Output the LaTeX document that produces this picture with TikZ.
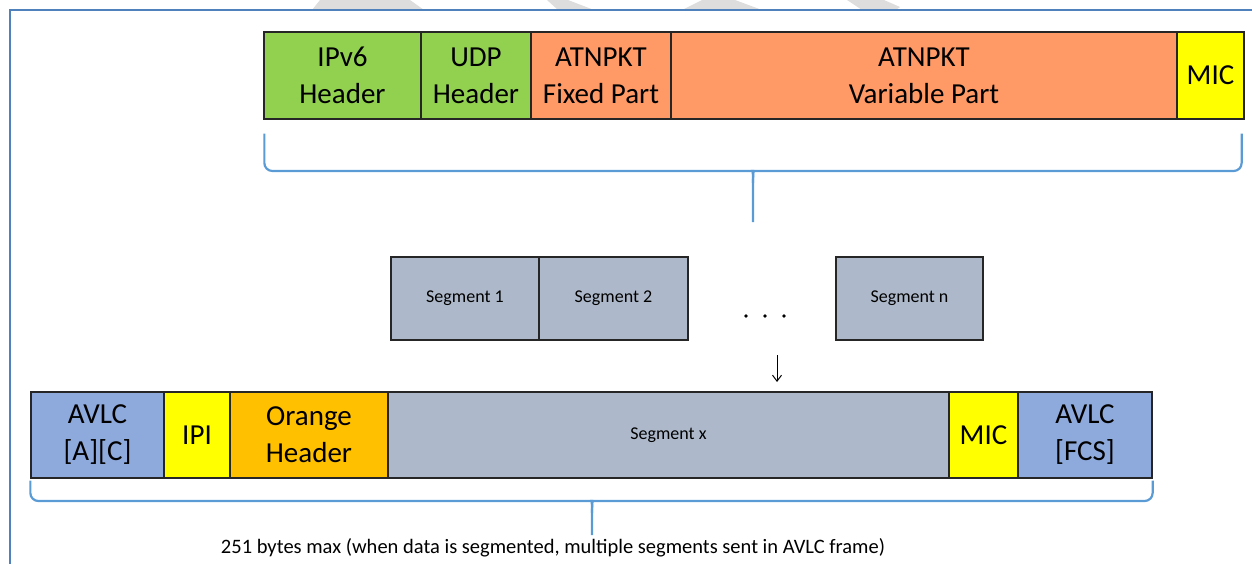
\documentclass[tikz,border=0pt]{standalone}
\usepackage{fontspec}
\setmainfont{Carlito}
\usetikzlibrary{calc,arrows.meta}

\definecolor{framecol}{HTML}{4F81BD}
\definecolor{bracecol}{HTML}{5B9BD5}
\definecolor{ipgreen}{HTML}{92D050}
\definecolor{atnorange}{HTML}{FF9966}
\definecolor{micyellow}{HTML}{FFFF00}
\definecolor{segblue}{HTML}{ADB9CA}
\definecolor{avlcblue}{HTML}{8EA9DB}
\definecolor{hdrorange}{HTML}{FFC000}
\definecolor{wmgray}{HTML}{DDDDDD}

\tikzset{
  cell/.style={draw=black!85, line width=1.3pt, inner sep=0pt, align=center,
    font=\fontsize{29}{37}\selectfont},
  bigrow/.style={cell, minimum height=87},
  segrow/.style={cell, fill=segblue, minimum height=83,
    font=\fontsize{18}{20}\selectfont},
  lowrow/.style={cell, minimum height=86},
  brace/.style={draw=bracecol, line width=2.2pt, rounded corners=8pt},
  framebar/.style={draw=framecol, line width=1.8pt},
  watermark/.style={fill=wmgray, draw=none},
}

\begin{document}
\begin{tikzpicture}[x=1pt, y=-1pt]
  \useasboundingbox (0,0) rectangle (1252,564);

  % faint background lettering, cut off by the frame
  \fill[watermark] (320,0) -- (410,0) -- (424,10) -- (312,10) -- cycle;
  \fill[watermark] (547,0) -- (568,0) -- (594,10) -- (558,10) -- cycle;
  \fill[watermark] (702,0) -- (735,0) -- (762,10) -- (682,10) -- cycle;
  \fill[watermark] (847,0) -- (884,0) -- (900,7) -- (896,10) -- (862,10) -- cycle;

  % frame
  \draw[framebar] (1252,10) -- (10,10) -- (10,564);

  % IPv6 packet
  \node[bigrow, fill=ipgreen,    minimum width=157] (ipv6)  at (342.5,75.5) {IPv6\\Header};
  \node[bigrow, fill=ipgreen,    minimum width=110] (udp)   at (476,75.5)   {UDP\\Header};
  \node[bigrow, fill=atnorange,  minimum width=140] (fixed) at (601,75.5)   {ATNPKT\\Fixed Part};
  \node[bigrow, fill=atnorange,  minimum width=506] (var)   at (924,75.5)   {ATNPKT\\Variable Part};
  \node[bigrow, fill=micyellow,  minimum width=67]  (mica)  at (1210.5,75.5) {MIC};

  % segments
  \node[segrow, minimum width=148] (seg1) at (465,298.5)   {Segment 1};
  \node[segrow, minimum width=149] (seg2) at (613.5,298.5) {Segment 2};
  \node[segrow, minimum width=147] (segn) at (909.5,298.5) {Segment n};
  \foreach \dx in {746,765,784}
    \fill (\dx,316) circle (1.8);

  % AVLC frame
  \node[lowrow, fill=avlcblue,  minimum width=133] (avlca) at (97.5,435) {AVLC\\{[A][C]}};
  \node[lowrow, fill=micyellow, minimum width=66]  (ipi)   at (197,435)  {IPI};
  \node[lowrow, fill=hdrorange, minimum width=158] (ohdr)  at (309,435)  {Orange\\Header};
  \node[segrow, minimum width=561, minimum height=86] (segx) at (668.5,435) {Segment x};
  \node[lowrow, fill=micyellow, minimum width=69]  (micb)  at (983.5,435) {MIC};
  \node[lowrow, fill=avlcblue,  minimum width=134] (fcs)   at (1085,435) {AVLC\\{[FCS]}};

  % brace under the IPv6 packet
  \coordinate (tl) at ($(ipv6.south west)+(1,14)$);
  \coordinate (tr) at ($(mica.south east)+(-3,14)$);
  \coordinate (tm) at (753,171);
  \draw[brace] (tl) -- (tl |- tm) -- ($(tm)+(-8,0)$)
    .. controls ($(tm)+(-1,0)$) and ($(tm)+(0,3)$) .. ($(tm)+(0,12)$) -- ($(tm)+(0,51)$);
  \draw[brace] (tr) -- (tr |- tm) -- ($(tm)+(8,0)$)
    .. controls ($(tm)+(1,0)$) and ($(tm)+(0,3)$) .. ($(tm)+(0,12)$);

  % arrow down to the segment in the frame
  \coordinate (arrtop) at (777,355);
  \coordinate (arrbot) at (777,382);
  \draw[line width=1pt, -{Straight Barb[length=6pt,width=9pt]}] (arrtop) -- (arrbot);

  % brace under the AVLC frame
  \coordinate (bl) at ($(avlca.south west)+(0,2)$);
  \coordinate (br) at ($(fcs.south east)+(0,2)$);
  \coordinate (bm) at (592,501);
  \draw[brace] (bl) -- (bl |- bm) -- ($(bm)+(-8,0)$)
    .. controls ($(bm)+(-1,0)$) and ($(bm)+(0,3)$) .. ($(bm)+(0,12)$) -- ($(bm)+(0,34)$);
  \draw[brace] (br) -- (br |- bm) -- ($(bm)+(8,0)$)
    .. controls ($(bm)+(1,0)$) and ($(bm)+(0,3)$) .. ($(bm)+(0,12)$);

  \node[font=\fontsize{20.5}{22}\selectfont, inner sep=0pt] (note) at (553,548)
    {251 bytes max (when data is segmented, multiple segments sent in AVLC frame)};
\end{tikzpicture}
\end{document}
